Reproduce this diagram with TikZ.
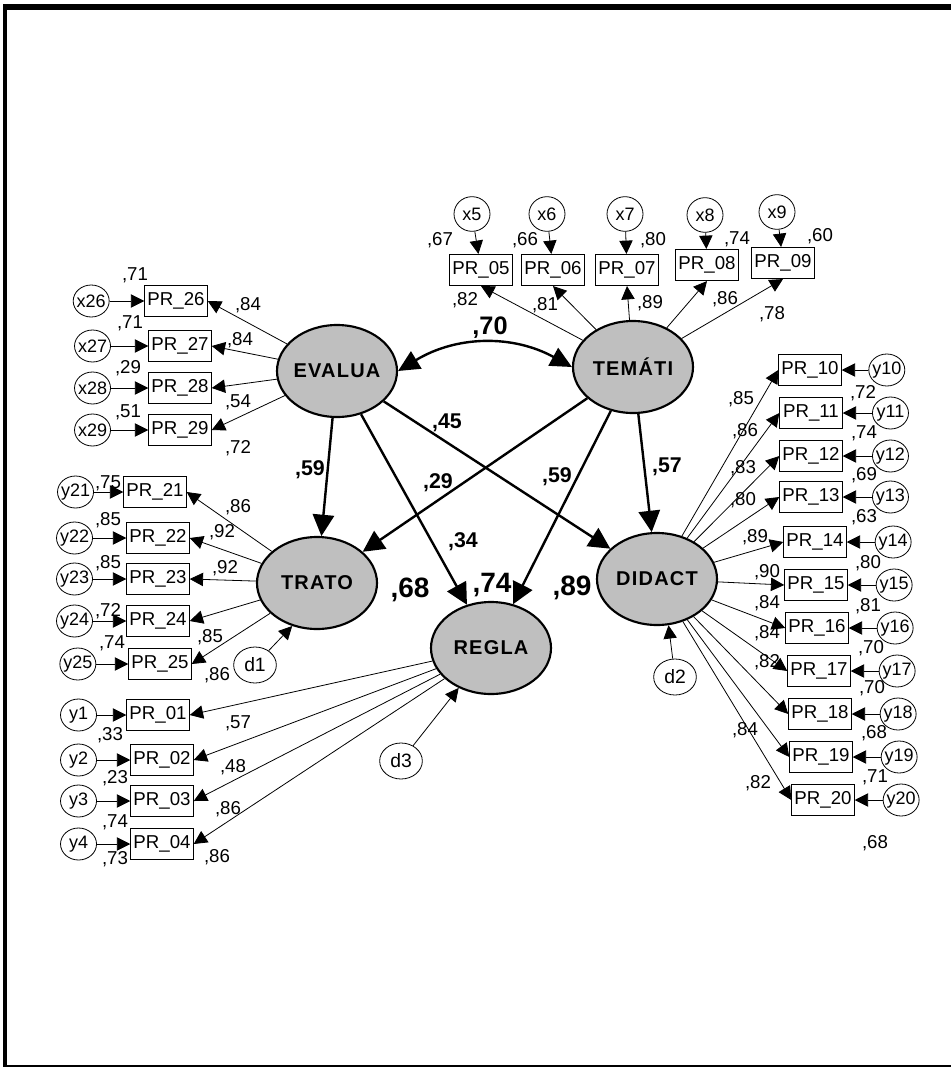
\documentclass[tikz,border=0pt]{standalone}
\usepackage{fontspec}
\setmainfont{Liberation Sans}
\newfontfamily\latfont[LetterSpace=6]{Liberation Sans}
\usepackage{tikz}
\usetikzlibrary{positioning}
\usetikzlibrary{shapes.geometric}
\usetikzlibrary{arrows.meta}

\begin{document}
\begin{tikzpicture}[x=0.75pt, y=-0.75pt,
		latent/.style={ellipse, draw, line width=1.6pt, fill=black!25, minimum width=90pt, minimum height=69pt, inner xsep=-6pt, inner ysep=0pt, font=\latfont\bfseries\fontsize{15}{16}\selectfont},
		indic/.style={rectangle, draw, line width=0.6pt, minimum width=47pt, minimum height=23.5pt, inner sep=1pt, font=\fontsize{14}{15}\selectfont},
		errc/.style={ellipse, draw, line width=0.6pt, minimum width=27pt, minimum height=24pt, inner xsep=-4pt, inner ysep=-1pt, font=\fontsize{13.5}{14}\selectfont},
		distc/.style={ellipse, draw, line width=0.6pt, minimum width=32pt, minimum height=27pt, inner sep=0pt, font=\fontsize{14.5}{15}\selectfont},
		lbl/.style={inner sep=0pt, font=\fontsize{14}{15}\selectfont},
		coef/.style={inner sep=0pt, font=\bfseries\fontsize{16}{17}\selectfont},
		rsq/.style={inner sep=0pt, font=\bfseries\fontsize{21}{22}\selectfont},
		load/.style={line width=0.6pt, -{Triangle[length=10pt,width=10pt]}},
		struc/.style={line width=1.8pt, -{Triangle[length=16pt,width=16pt]}}]
		\useasboundingbox (0,0) rectangle (951,1068);
		\draw [line width=4.5pt] (3,7) -- (951,7);
		\draw [line width=3pt] (5,4) -- (5,1067);
		\draw [line width=1.5pt] (3,1066) -- (951,1066);
		% latent variables
		\node [latent] at (337,371) (evalua) {EVALUA};
		\node [latent] at (633,367) (temati) {TEMÁTI};
		\node [latent] at (317,583) (trato) {TRATO};
		\node [latent] at (491,648) (regla) {REGLA};
		\node [latent] at (657,579) (didact) {DIDACT};
		\node [distc] at (255,665) (d1) {d1};
		\node [distc] at (675,677) (d2) {d2};
		\node [distc] at (401,761) (d3) {d3};
		% TEMATI
		\node [indic] at (481,270) (pr05) {PR\_05};
		\node [indic] at (553,270) (pr06) {PR\_06};
		\node [indic] at (627,270) (pr07) {PR\_07};
		\node [indic] at (707,265) (pr08) {PR\_08};
		\node [indic] at (783,263) (pr09) {PR\_09};
		\node [errc, minimum height=26pt] at (472,214) (x5) {x5};
		\node [errc, minimum height=26pt] at (547,214) (x6) {x6};
		\node [errc, minimum height=26pt] at (625,214) (x7) {x7};
		\node [errc, minimum height=26pt] at (705,215) (x8) {x8};
		\node [errc, minimum height=26pt] at (777,212) (x9) {x9};
		% EVALUA
		\node [indic] at (176,301) (pr26) {PR\_26};
		\node [indic] at (180,346) (pr27) {PR\_27};
		\node [indic] at (180,388) (pr28) {PR\_28};
		\node [indic] at (180,430) (pr29) {PR\_29};
		\node [errc, left=26pt of pr26] (x26) {x26};
		\node [errc, left=28pt of pr27] (x27) {x27};
		\node [errc, left=28pt of pr28] (x28) {x28};
		\node [errc, left=28pt of pr29] (x29) {x29};
		% TRATO
		\node [indic] at (155,492) (pr21) {PR\_21};
		\node [indic] at (158,538) (pr22) {PR\_22};
		\node [indic] at (158,579) (pr23) {PR\_23};
		\node [indic] at (158,621) (pr24) {PR\_24};
		\node [indic] at (160,664) (pr25) {PR\_25};
		\node [errc, left=22pt of pr21] (y21) {y21};
		\node [errc, left=25pt of pr22] (y22) {y22};
		\node [errc, left=25pt of pr23] (y23) {y23};
		\node [errc, left=25pt of pr24] (y24) {y24};
		\node [errc, left=24pt of pr25] (y25) {y25};
		% REGLA
		\node [indic] at (158,715) (pr01) {PR\_01};
		\node [indic] at (162,760) (pr02) {PR\_02};
		\node [indic] at (162,801) (pr03) {PR\_03};
		\node [indic] at (162,844) (pr04) {PR\_04};
		\node [errc, left=22pt of pr01] (y1) {y1};
		\node [errc, left=25pt of pr02] (y2) {y2};
		\node [errc, left=25pt of pr03] (y3) {y3};
		\node [errc, left=25pt of pr04] (y4) {y4};
		% DIDACT
		\node [indic] at (810,370) (pr10) {PR\_10};
		\node [indic] at (811,413) (pr11) {PR\_11};
		\node [indic] at (811,456) (pr12) {PR\_12};
		\node [indic] at (811,497) (pr13) {PR\_13};
		\node [indic] at (815,542) (pr14) {PR\_14};
		\node [indic] at (816,585) (pr15) {PR\_15};
		\node [indic] at (817,628) (pr16) {PR\_16};
		\node [indic] at (819,671) (pr17) {PR\_17};
		\node [indic] at (820,714) (pr18) {PR\_18};
		\node [indic] at (821,757) (pr19) {PR\_19};
		\node [indic] at (823,800) (pr20) {PR\_20};
		\node [errc, right=20pt of pr10] (y10) {y10};
		\node [errc, right=22pt of pr11] (y11) {y11};
		\node [errc, right=22pt of pr12] (y12) {y12};
		\node [errc, right=22pt of pr13] (y13) {y13};
		\node [errc, right=21pt of pr14] (y14) {y14};
		\node [errc, right=21pt of pr15] (y15) {y15};
		\node [errc, right=21pt of pr16] (y16) {y16};
		\node [errc, right=21pt of pr17] (y17) {y17};
		\node [errc, right=21pt of pr18] (y18) {y18};
		\node [errc, right=21pt of pr19] (y19) {y19};
		\node [errc, right=21pt of pr20] (y20) {y20};
		% structural paths
		\draw [line width=1.8pt, {Triangle[length=16pt,width=15pt]}-{Triangle[length=16pt,width=15pt]}] (evalua.east) to [bend left=30] (temati.west);
		\draw [struc] (evalua) -- (trato);
		\draw [struc] (evalua) -- (regla);
		\draw [struc] (evalua) -- (didact);
		\draw [struc] (temati) -- (trato);
		\draw [struc] (temati) -- (regla);
		\draw [struc] (temati) -- (didact);
		\draw [load] (d1) -- (trato.240);
		\draw [load] (d2) -- (didact.284);
		\draw [load] (d3) -- (regla.231);
		% loadings
		\draw [load] (temati) -- (pr05.south); \draw [load] (x5) -- (pr05);
		\draw [load] (temati) -- (pr06.south); \draw [load] (x6) -- (pr06);
		\draw [load] (temati) -- (pr07.south); \draw [load] (x7) -- (pr07);
		\draw [load] (temati) -- (pr08.south); \draw [load] (x8) -- (pr08);
		\draw [load] (temati) -- (pr09.south); \draw [load] (x9) -- (pr09);
		\draw [load] (evalua) -- (pr26.east); \draw [load] (x26) -- (pr26);
		\draw [load] (evalua) -- (pr27.east); \draw [load] (x27) -- (pr27);
		\draw [load] (evalua) -- (pr28.east); \draw [load] (x28) -- (pr28);
		\draw [load] (evalua) -- (pr29.east); \draw [load] (x29) -- (pr29);
		\draw [load] (trato) -- (pr21.east); \draw [load] (y21) -- (pr21);
		\draw [load] (trato) -- (pr22.east); \draw [load] (y22) -- (pr22);
		\draw [load] (trato) -- (pr23.east); \draw [load] (y23) -- (pr23);
		\draw [load] (trato) -- (pr24.east); \draw [load] (y24) -- (pr24);
		\draw [load] (trato) -- (pr25.east); \draw [load] (y25) -- (pr25);
		\draw [load] (regla) -- (pr01.east); \draw [load] (y1) -- (pr01);
		\draw [load] (regla) -- (pr02.east); \draw [load] (y2) -- (pr02);
		\draw [load] (regla) -- (pr03.east); \draw [load] (y3) -- (pr03);
		\draw [load] (regla) -- (pr04.east); \draw [load] (y4) -- (pr04);
		\draw [load] (didact) -- (pr10.west); \draw [load] (y10) -- (pr10);
		\draw [load] (didact) -- (pr11.west); \draw [load] (y11) -- (pr11);
		\draw [load] (didact) -- (pr12.west); \draw [load] (y12) -- (pr12);
		\draw [load] (didact) -- (pr13.west); \draw [load] (y13) -- (pr13);
		\draw [load] (didact) -- (pr14.west); \draw [load] (y14) -- (pr14);
		\draw [load] (didact) -- (pr15.west); \draw [load] (y15) -- (pr15);
		\draw [load] (didact) -- (pr16.west); \draw [load] (y16) -- (pr16);
		\draw [load] (didact) -- (pr17.west); \draw [load] (y17) -- (pr17);
		\draw [load] (didact) -- (pr18.west); \draw [load] (y18) -- (pr18);
		\draw [load] (didact) -- (pr19.west); \draw [load] (y19) -- (pr19);
		\draw [load] (didact) -- (pr20.west); \draw [load] (y20) -- (pr20);
		% coefficients
		\node [coef, font=\bfseries\fontsize{19}{20}\selectfont] at (490,328) (cevte) {,70};
		\node [coef] at (447,423) (cevdi) {,45};
		\node [coef] at (310,470) (cevtr) {,59};
		\node [coef] at (438,483) (ctetr) {,29};
		\node [coef] at (557,477) (ctere) {,59};
		\node [coef] at (667,467) (ctedi) {,57};
		\node [coef] at (463,542) (cevre) {,34};
		\node [rsq] at (410,590) (rtrato) {,68};
		\node [rsq] at (492,585) (rregla) {,74};
		\node [rsq] at (572,588) (rdidact) {,89};
		% top labels
		\node [lbl] at (440,240) (v05) {,67};
		\node [lbl] at (525,240) (v06) {,66};
		\node [lbl] at (653,240) (v07) {,80};
		\node [lbl] at (737,239) (v08) {,74};
		\node [lbl] at (820,236) (v09) {,60};
		\node [lbl] at (465,300) (w05) {,82};
		\node [lbl] at (545,305) (w06) {,81};
		\node [lbl] at (650,303) (w07) {,89};
		\node [lbl] at (725,299) (w08) {,86};
		\node [lbl] at (772,314) (w09) {,78};
		% left labels
		\node [lbl] at (135,275) (v26) {,71};
		\node [lbl] at (130,323) (v27) {,71};
		\node [lbl] at (128,368) (v28) {,29};
		\node [lbl] at (128,412) (v29) {,51};
		\node [lbl] at (248,305) (w26) {,84};
		\node [lbl] at (240,340) (w27) {,84};
		\node [lbl] at (238,402) (w28) {,54};
		\node [lbl] at (238,448) (w29) {,72};
		\node [lbl] at (108,483) (v21) {,75};
		\node [lbl] at (108,520) (v22) {,85};
		\node [lbl] at (108,563) (v23) {,85};
		\node [lbl] at (108,611) (v24) {,72};
		\node [lbl] at (112,643) (v25) {,74};
		\node [lbl] at (238,507) (w21) {,86};
		\node [lbl] at (222,532) (w22) {,92};
		\node [lbl] at (225,568) (w23) {,92};
		\node [lbl] at (210,637) (w24) {,85};
		\node [lbl] at (217,675) (w25) {,86};
		\node [lbl] at (110,735) (v01) {,33};
		\node [lbl] at (115,778) (v02) {,23};
		\node [lbl] at (115,822) (v03) {,74};
		\node [lbl] at (115,859) (v04) {,73};
		\node [lbl] at (238,723) (w01) {,57};
		\node [lbl] at (233,767) (w02) {,48};
		\node [lbl] at (228,809) (w03) {,86};
		\node [lbl] at (217,857) (w04) {,86};
		% right labels
		\node [lbl] at (863,393) (v10) {,72};
		\node [lbl] at (864,433) (v11) {,74};
		\node [lbl] at (864,475) (v12) {,69};
		\node [lbl] at (864,517) (v13) {,63};
		\node [lbl] at (868,563) (v14) {,80};
		\node [lbl] at (868,606) (v15) {,81};
		\node [lbl] at (871,648) (v16) {,70};
		\node [lbl] at (872,688) (v17) {,70};
		\node [lbl] at (874,733) (v18) {,68};
		\node [lbl] at (875,777) (v19) {,71};
		\node [lbl] at (875,843) (v20) {,68};
		\node [lbl] at (741,399) (w10) {,85};
		\node [lbl] at (745,431) (w11) {,86};
		\node [lbl] at (743,468) (w12) {,83};
		\node [lbl] at (743,500) (w13) {,80};
		\node [lbl] at (755,537) (w14) {,89};
		\node [lbl] at (767,572) (w15) {,90};
		\node [lbl] at (767,603) (w16) {,84};
		\node [lbl] at (767,633) (w17) {,84};
		\node [lbl] at (767,662) (w18) {,82};
		\node [lbl] at (745,730) (w19) {,84};
		\node [lbl] at (758,783) (w20) {,82};
		\end{tikzpicture}
\end{document}
